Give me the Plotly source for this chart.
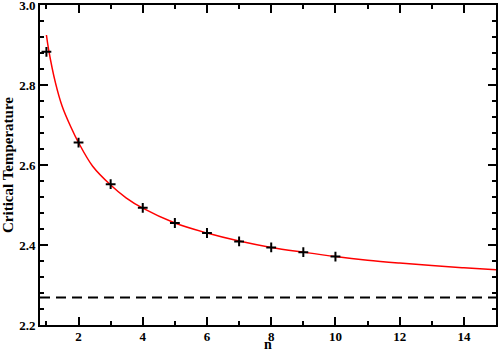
import plotly.graph_objects as go

# Simulated critical temperatures for film thickness n
n_values = [1, 2, 3, 4, 5, 6, 7, 8, 9, 10]
tc_values = [2.883, 2.656, 2.552, 2.493, 2.455, 2.430, 2.409, 2.394, 2.382, 2.371]

# Fitted curve
fit_n = [1.0, 1.07, 1.28, 1.49, 1.75, 2.0, 2.44, 3.0, 3.48, 4.0, 5, 6, 7, 8, 9, 10, 11, 12, 13, 14, 15]
fit_tc = [2.925, 2.888, 2.806, 2.747, 2.697, 2.656, 2.597, 2.550, 2.518, 2.492, 2.455,
          2.430, 2.410, 2.394, 2.382, 2.371, 2.362, 2.355, 2.349, 2.343, 2.338]

# 2D Ising critical temperature (bulk limit)
tc_2d = 2.269

font = "Liberation Serif"

fig = go.Figure()

fig.add_hline(y=tc_2d, line=dict(color="black", width=2, dash="10px,6px"))

fig.add_scatter(
    x=fit_n, y=fit_tc, mode="lines",
    line=dict(color="red", width=1.5, shape="spline", smoothing=1.0),
    showlegend=False,
)

fig.add_scatter(
    x=n_values, y=tc_values, mode="markers",
    marker=dict(symbol="cross-thin", size=7, line=dict(color="black", width=2)),
    showlegend=False,
)

axis_common = dict(
    showline=True, linecolor="black", linewidth=2, mirror="allticks",
    ticks="inside", ticklen=8, tickwidth=2, tickcolor="black",
    showgrid=False, zeroline=False, automargin=False,
    ticklabeloverflow="allow",
    tickfont=dict(family=font, size=13, color="black", weight="bold"),
)

fig.update_xaxes(
    range=[0.8, 15], tick0=0, dtick=2, ticklabelstandoff=-2,
    minor=dict(dtick=1, ticks="inside", ticklen=4, tickwidth=2, tickcolor="black"),
    **axis_common,
)
fig.update_yaxes(
    range=[2.2, 3.0], dtick=0.2, tickformat=".1f",
    minor=dict(dtick=0.04, ticks="inside", ticklen=4, tickwidth=2, tickcolor="black"),
    title=dict(text="Critical Temperature", font=dict(family=font, size=15, color="black", weight="bold"), standoff=4),
    **axis_common,
)

# x-axis title placed as an annotation to sit just below the tick labels
fig.add_annotation(
    text="n", xref="paper", yref="paper", x=0.5, y=-0.06,
    xanchor="center", yanchor="middle", showarrow=False,
    font=dict(family=font, size=14, color="black", weight="bold"),
)

fig.update_layout(
    width=498, height=352,
    margin=dict(l=40, r=2, t=5, b=27),
    plot_bgcolor="white", paper_bgcolor="white",
)

fig.write_html("out.html", config={"displayModeBar": False},
               post_script="document.body.style.margin='0';")
